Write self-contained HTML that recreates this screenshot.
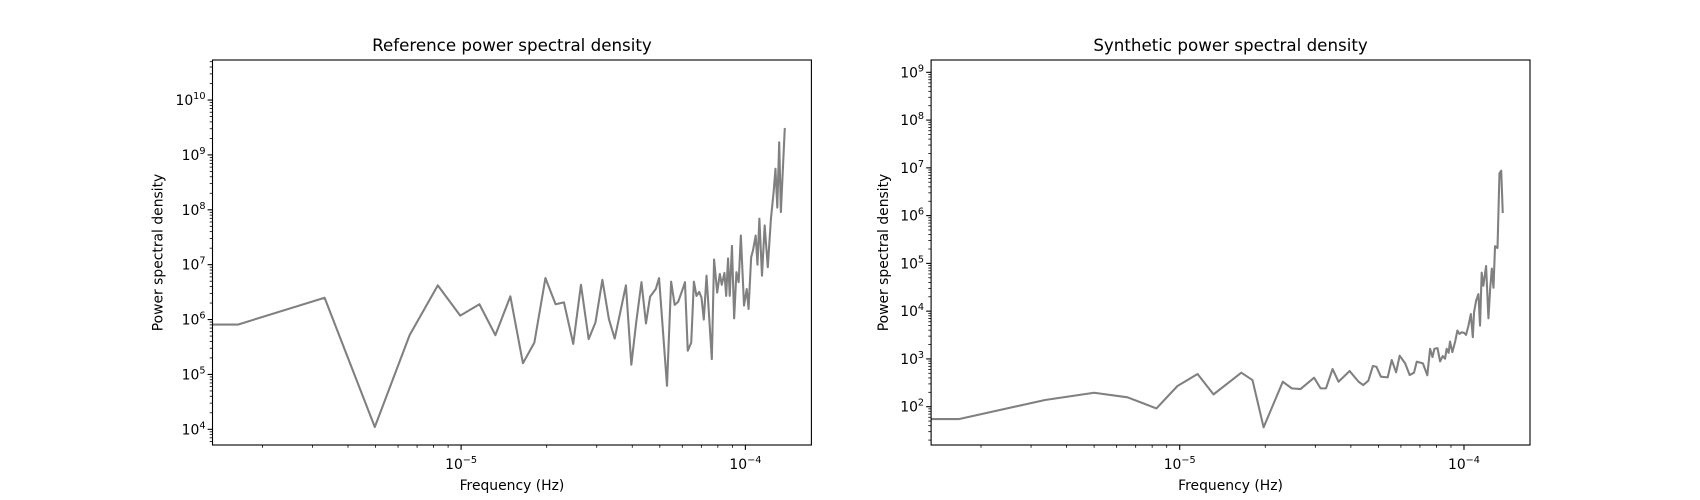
<!DOCTYPE html>
<html><head><meta charset="utf-8"><style>
html,body{margin:0;padding:0;background:#fff;}
svg{display:block;font-family:"DejaVu Sans","Liberation Sans",sans-serif;}
</style></head><body>
<svg id="fig" width="1700" height="500" viewBox="0 0 1700 500" xmlns="http://www.w3.org/2000/svg">
<rect x="0" y="0" width="1700" height="500" fill="#fff"/>
</svg>
<script>
// Reference PSD data: frequency (µHz) and power
const refFreq = [1.64,3.31,4.97,6.59,8.28,9.93,11.6,13.2,14.9,16.5,18.1,19.8,21.5,23.0,24.8,26.4,28.1,29.7,31.4,33.1,34.7,38.0,39.7,41.3,43.1,44.7,46.2,48.4,49.7,53.0,54.8,56.4,58.0,60.2,61.3,62.7,64.5,65.9,67.3,68.8,70.1,71.4,73.0,76.2,77.6,79.6,81.3,82.6,84.4,85.6,86.9,88.1,89.7,91.3,93.0,94.7,96.4,98.9,101.1,102.6,104.8,106.3,108.7,110.3,112.0,114.4,116.9,119.9,123.0,125.7,127.6,129.5,131.5,133.3,137.6];
const refPower = [8.1e5,2.5e6,1.1e4,5.2e5,4.2e6,1.18e6,1.9e6,5.2e5,2.65e6,1.6e5,3.8e5,5.7e6,1.9e6,2.06e6,3.6e5,4.3e6,4.4e5,8.9e5,5.3e6,1.02e6,4.5e5,4.2e6,1.5e5,8.9e5,4.8e6,8.5e5,2.6e6,3.6e6,5.7e6,6.2e4,4.9e6,1.85e6,2.1e6,3.6e6,4.8e6,2.7e5,3.8e5,4.9e6,2.7e6,3.2e6,2.5e6,1.0e6,6.3e6,1.9e5,1.24e7,3.1e6,6.8e6,4.3e6,7.1e6,2.7e6,1.3e7,2.7e6,2.2e7,1.05e6,7.3e6,4.8e6,3.4e7,1.8e6,3.6e6,1.56e6,1.37e7,1.8e7,3.4e7,1.0e7,6.9e7,6.3e6,5.2e7,9e6,6.9e7,2.1e8,5.6e8,1.1e8,1.7e9,9.1e7,3.1e9];
// Synthetic PSD data
const synFreq = [1.67,3.36,5.0,6.55,8.28,9.82,11.56,13.15,16.47,18.03,19.73,23.05,24.8,26.6,29.7,31.3,32.7,34.5,36.2,39.6,42.6,44.2,46.1,47.8,49.2,51.0,53.9,55.7,57.7,59.4,62.1,64.4,66.7,68.2,71.7,74.3,76.0,77.5,78.7,80.7,82.4,84.2,85.8,86.9,88.3,89.3,91.0,93.0,94.8,96.4,98.2,100.1,101.7,103.7,105.7,107.4,108.5,110.3,112.4,113.9,115.4,117.0,119.6,121.9,123.6,125.3,127.0,128.6,131.2,133.3,135.2,136.9];
const synPower = [55,138,196,157,92,271,483,181,515,361,37,333,242,234,404,242,242,615,333,558,333,284,350,710,687,425,411,948,524,1170,807,460,515,875,807,455,1630,1094,1630,1680,889,1148,1010,1630,1346,2317,1390,2244,3920,3340,3620,3510,3190,4980,8700,2850,9440,1.65e4,2.27e4,4980,6.4e4,3.4e4,8.8e4,7080,2.9e4,7.8e4,3.1e4,2.3e5,2.1e5,7.7e6,8.7e6,1.13e6];
const xTickExps = [-5,-4];
const refYTickExps = [4,5,6,7,8,9,10];
const synYTickExps = [2,3,4,5,6,7,8,9];

const NS="http://www.w3.org/2000/svg";
const svg=document.getElementById('fig');
function mk(tag,attrs,parent){const e=document.createElementNS(NS,tag);for(const k in attrs)e.setAttribute(k,attrs[k]);(parent||svg).appendChild(e);return e;}

function drawPanel(opt){
  const L=opt.left,R=opt.left+598.9,T=60,B=445;
  const xmin=Math.log10(1.335e-6),xmax=Math.log10(1.707e-4);
  const X=f=>L+(Math.log10(f)-xmin)/(xmax-xmin)*(R-L);
  const Y=p=>B-(Math.log10(p)-opt.ymin)/(opt.ymax-opt.ymin)*(B-T);
  const g=mk('g',{});
  
  
  const t=mk('text',{x:(L+R)/2,y:51,'text-anchor':'middle','font-size':'16.7px',fill:'#000'},g);
  t.textContent=opt.title;
  
  
  let d='M'+L.toFixed(2)+','+Y(opt.power[0]).toFixed(2);
  for(let i=0;i<opt.freq.length;i++){d+=' L'+X(opt.freq[i]*1e-6).toFixed(2)+','+Y(opt.power[i]).toFixed(2);}
  const cp=mk('clipPath',{id:opt.name+'-clip'},g);mk('rect',{x:L,y:T,width:R-L,height:B-T},cp);
  const line=mk('path',{d:d,fill:'none',stroke:'#808080','stroke-width':2.08,'stroke-linejoin':'round','clip-path':'url(#'+opt.name+'-clip)'},g);
  
  
  for(let e=-6;e<=-4;e++){
    for(let m=1;m<10;m++){
      const f=m*Math.pow(10,e);const x=X(f);
      if(x<L-0.1||x>R+0.1)continue;
      const major=(m===1&&xTickExps.includes(e));
      mk('line',{x1:x,y1:B,x2:x,y2:B+(major?4.9:2.8),stroke:'#000','stroke-width':major?1.1:0.8},g);
    }
  }
  xTickExps.forEach(e=>{
    const x=X(Math.pow(10,e));
    const tx=mk('text',{x:x,y:469,'text-anchor':'middle','font-size':'13.9px',fill:'#000'},g);
    
    
    tx.innerHTML='10<tspan dy="-6" font-size="9.7px">\u2212'+(-e)+'</tspan>';
  });
  for(let e=Math.floor(opt.ymin);e<=Math.ceil(opt.ymax);e++){
    for(let m=1;m<10;m++){
      const p=m*Math.pow(10,e);const lp=Math.log10(p);
      if(lp<opt.ymin||lp>opt.ymax)continue;const y=Y(p);
      mk('line',{x1:L,y1:y,x2:L-(m===1?4.9:2.8),y2:y,stroke:'#000','stroke-width':m===1?1.1:0.8},g);
    }
  }
  opt.yticks.forEach(e=>{
    const y=Y(Math.pow(10,e));
    const ty=mk('text',{x:L-7,y:y+5,'text-anchor':'end','font-size':'13.9px',fill:'#000'},g);
    
    
    ty.innerHTML='10<tspan dy="-6" font-size="9.7px">'+e+'</tspan>';
  });
  const fr=mk('rect',{x:L,y:T,width:R-L,height:B-T,fill:'none',stroke:'#000','stroke-width':1.1},g);
  
  
  const xl=mk('text',{x:(L+R)/2,y:490,'text-anchor':'middle','font-size':'13.9px',fill:'#000'},g);
  xl.textContent='Frequency (Hz)';
  
  
  const yl=mk('text',{x:0,y:0,'text-anchor':'middle','font-size':'13.9px',fill:'#000',transform:'translate('+(L-opt.ylabelOffset)+','+((T+B)/2)+') rotate(-90)'},g);
  yl.textContent='Power spectral density';
  
  
}
drawPanel({name:'reference-psd-panel',title:'Reference power spectral density',left:212.5,ymin:3.714,ymax:10.73,freq:refFreq,power:refPower,yticks:refYTickExps,ylabelOffset:50});
drawPanel({name:'synthetic-psd-panel',title:'Synthetic power spectral density',left:931.1,ymin:1.198,ymax:9.258,freq:synFreq,power:synPower,yticks:synYTickExps,ylabelOffset:43});
</script>
</body></html>
